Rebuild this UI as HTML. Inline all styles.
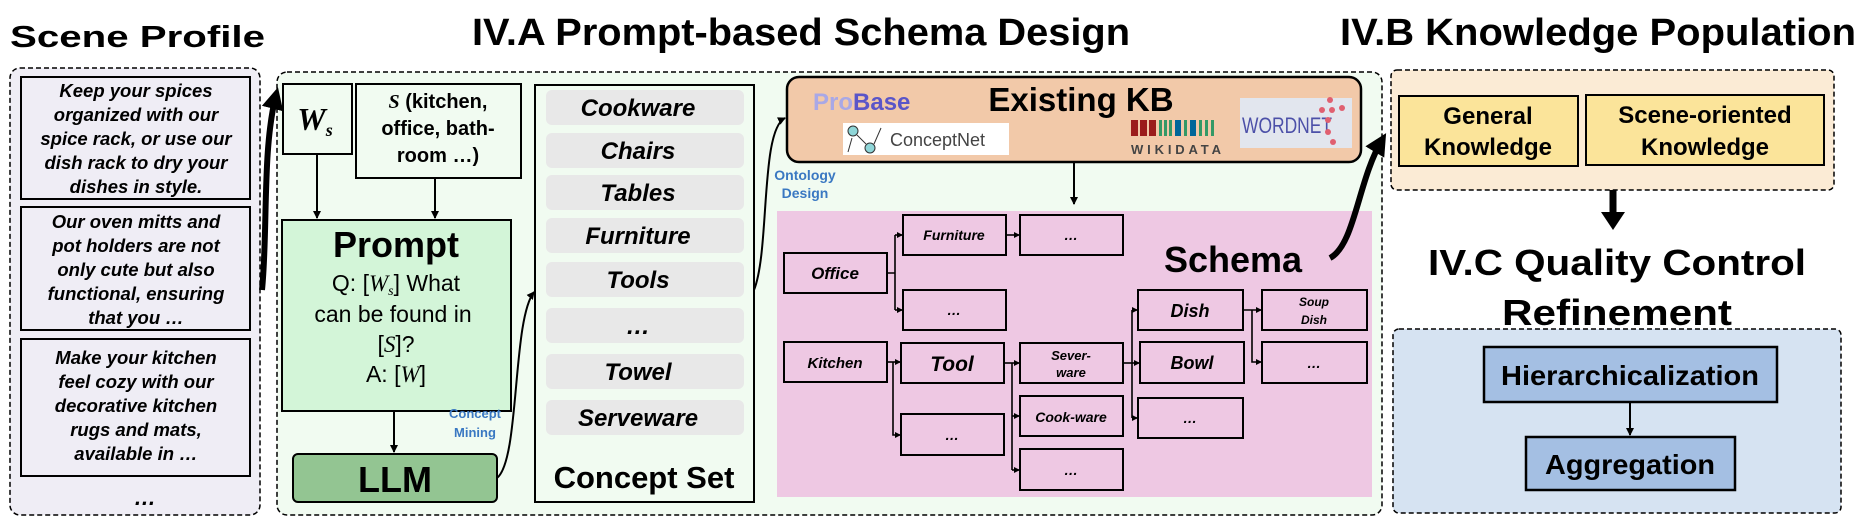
<!DOCTYPE html>
<html><head><meta charset="utf-8"><style>
html,body{margin:0;padding:0;background:#fff;}
svg{display:block;font-family:"Liberation Sans",Arial,sans-serif;}
.b{font-weight:bold}
.bi{font-weight:bold;font-style:italic}
</style></head><body>
<svg width="1858" height="530" viewBox="0 0 1858 530" xmlns="http://www.w3.org/2000/svg">
<defs>
<marker id="a" markerWidth="8" markerHeight="8" refX="7" refY="4" orient="auto" markerUnits="userSpaceOnUse"><path d="M0,0 L8,4 L0,8 z" fill="#000"/></marker>
<marker id="s" markerWidth="6" markerHeight="6" refX="5" refY="3" orient="auto" markerUnits="userSpaceOnUse"><path d="M0,0 L6,3 L0,6 z" fill="#000"/></marker>
<marker id="big" markerWidth="22" markerHeight="22" refX="14" refY="11" orient="auto" markerUnits="userSpaceOnUse"><path d="M0,0 L22,11 L0,22 z" fill="#000"/></marker>
</defs>

<!-- Titles -->
<text x="10" y="47" class="b" font-size="31" textLength="255" lengthAdjust="spacingAndGlyphs">Scene Profile</text>
<text x="472" y="45" class="b" font-size="38" textLength="658" lengthAdjust="spacingAndGlyphs">IV.A Prompt-based Schema Design</text>
<text x="1340" y="45" class="b" font-size="38" textLength="516" lengthAdjust="spacingAndGlyphs">IV.B Knowledge Population</text>
<text x="1617" y="275" class="b" font-size="36" text-anchor="middle" textLength="378" lengthAdjust="spacingAndGlyphs">IV.C Quality Control</text>
<text x="1617" y="325" class="b" font-size="36" text-anchor="middle" textLength="230" lengthAdjust="spacingAndGlyphs">Refinement</text>

<!-- Scene profile -->
<rect x="10" y="68" width="250" height="447" rx="10" fill="#efedf5" stroke="#000" stroke-width="1.5" stroke-dasharray="5,3"/>
<g fill="#efedf5" stroke="#000" stroke-width="2">
<rect x="21" y="77" width="229" height="122"/>
<rect x="21" y="207" width="229" height="123"/>
<rect x="21" y="339" width="229" height="137"/>
</g>
<g class="bi" font-size="18.5" text-anchor="middle">
<text x="136" y="97">Keep your spices</text>
<text x="136" y="121">organized with our</text>
<text x="136" y="145">spice rack, or use our</text>
<text x="136" y="169">dish rack to dry your</text>
<text x="136" y="193">dishes in style.</text>
<text x="136" y="228">Our oven mitts and</text>
<text x="136" y="252">pot holders are not</text>
<text x="136" y="276">only cute but also</text>
<text x="136" y="300">functional, ensuring</text>
<text x="136" y="324">that you …</text>
<text x="136" y="364">Make your kitchen</text>
<text x="136" y="388">feel cozy with our</text>
<text x="136" y="412">decorative kitchen</text>
<text x="136" y="436">rugs and mats,</text>
<text x="136" y="460">available in …</text>
<text x="145" y="505" font-size="22">…</text>
</g>

<!-- Green section -->
<rect x="277" y="72" width="1105" height="443" rx="10" fill="#f1fbf1" stroke="#000" stroke-width="1.5" stroke-dasharray="5,3"/>
<!-- thick arrow scene->ws -->
<path d="M262,290 C268,230 262,150 276,95" fill="none" stroke="#000" stroke-width="6" marker-end="url(#big)"/>

<rect x="283" y="84" width="69" height="70" fill="#f1fbf1" stroke="#000" stroke-width="2"/>
<text x="315" y="130" font-family="Liberation Serif,serif" font-style="italic" font-weight="bold" font-size="32" text-anchor="middle">W<tspan font-size="18" dy="6">s</tspan></text>
<rect x="356" y="84" width="165" height="94" fill="#f1fbf1" stroke="#000" stroke-width="2"/>
<g class="b" font-size="20" text-anchor="middle">
<text x="438" y="108"><tspan font-family="Liberation Serif,serif" font-style="italic">S</tspan> (kitchen,</text>
<text x="438" y="135">office, bath-</text>
<text x="438" y="162">room …)</text>
</g>
<line x1="317" y1="154" x2="317" y2="218" stroke="#000" stroke-width="2" marker-end="url(#a)"/>
<line x1="435" y1="178" x2="435" y2="218" stroke="#000" stroke-width="2" marker-end="url(#a)"/>

<rect x="282" y="220" width="229" height="191" fill="#d3f5d8" stroke="#000" stroke-width="2"/>
<text x="396" y="257" class="b" font-size="36" text-anchor="middle">Prompt</text>
<g font-size="23" text-anchor="middle">
<text x="396" y="291">Q: [<tspan font-family="Liberation Serif,serif" font-style="italic">W<tspan font-size="14" dy="4">s</tspan></tspan><tspan dy="-4">] What</tspan></text>
<text x="393" y="322">can be found  in</text>
<text x="396" y="352">[<tspan font-family="Liberation Serif,serif" font-style="italic">S</tspan>]?</text>
<text x="396" y="382">A: [<tspan font-family="Liberation Serif,serif" font-style="italic">W</tspan>]</text>
</g>
<line x1="394" y1="411" x2="394" y2="452" stroke="#000" stroke-width="2" marker-end="url(#a)"/>
<rect x="293" y="454" width="204" height="48" rx="5" fill="#93c592" stroke="#000" stroke-width="2"/>
<text x="395" y="492" class="b" font-size="36" text-anchor="middle">LLM</text>
<g class="b" font-size="13" fill="#3a78c2" text-anchor="middle">
<text x="475" y="418">Concept</text>
<text x="475" y="437">Mining</text>
</g>
<path d="M497,478 C520,460 512,320 534,292" fill="none" stroke="#000" stroke-width="2" marker-end="url(#a)"/>

<!-- Concept set -->
<rect x="535" y="85" width="219" height="417" fill="#f1fbf1" stroke="#000" stroke-width="2"/>
<g fill="#e8e8e8">
<rect x="546" y="90" width="198" height="35" rx="6"/>
<rect x="546" y="133" width="198" height="35" rx="6"/>
<rect x="546" y="175" width="198" height="35" rx="6"/>
<rect x="546" y="218" width="198" height="35" rx="6"/>
<rect x="546" y="262" width="198" height="35" rx="6"/>
<rect x="546" y="308" width="198" height="35" rx="6"/>
<rect x="546" y="354" width="198" height="35" rx="6"/>
<rect x="546" y="400" width="198" height="35" rx="6"/>
</g>
<g class="bi" font-size="24" text-anchor="middle">
<text x="638" y="116">Cookware</text>
<text x="638" y="159">Chairs</text>
<text x="638" y="201">Tables</text>
<text x="638" y="244">Furniture</text>
<text x="638" y="288">Tools</text>
<text x="638" y="334">…</text>
<text x="638" y="380">Towel</text>
<text x="638" y="426">Serveware</text>
</g>
<text x="644" y="488" class="b" font-size="31" text-anchor="middle">Concept Set</text>
<path d="M754,290 C770,250 760,130 785,118" fill="none" stroke="#000" stroke-width="2" marker-end="url(#a)"/>
<g class="b" font-size="14" fill="#3a78c2" text-anchor="middle">
<text x="805" y="180">Ontology</text>
<text x="805" y="198">Design</text>
</g>

<!-- Existing KB -->
<rect x="787" y="77" width="574" height="85" rx="12" fill="#f2c9a9" stroke="#000" stroke-width="2.5"/>
<text x="1081" y="111" class="b" font-size="33" text-anchor="middle">Existing KB</text>
<text x="813" y="110" class="b" font-size="24"><tspan fill="#a9a8e6">Pro</tspan><tspan fill="#5a55c8">Base</tspan></text>
<rect x="843" y="123" width="166" height="32" fill="#fff"/>
<circle cx="853" cy="131" r="5" fill="#8fd6d8" stroke="#333"/><circle cx="870" cy="148" r="5" fill="#8fd6d8" stroke="#333"/>
<line x1="857" y1="135" x2="866" y2="144" stroke="#333"/><line x1="848" y1="152" x2="852" y2="138" stroke="#333"/><line x1="874" y1="144" x2="881" y2="128" stroke="#333"/>
<text x="890" y="146" font-size="18" fill="#444">ConceptNet</text>
<g>
<rect x="1131" y="120" width="7" height="16" fill="#9b1c1c"/><rect x="1140" y="120" width="7" height="16" fill="#9b1c1c"/><rect x="1149" y="120" width="7" height="16" fill="#9b1c1c"/>
<rect x="1159" y="120" width="3" height="16" fill="#339966"/><rect x="1164" y="120" width="3" height="16" fill="#339966"/><rect x="1169" y="120" width="3" height="16" fill="#339966"/>
<rect x="1175" y="120" width="6" height="16" fill="#006699"/><rect x="1184" y="120" width="3" height="16" fill="#339966"/><rect x="1190" y="120" width="6" height="16" fill="#006699"/><rect x="1199" y="120" width="3" height="16" fill="#339966"/><rect x="1205" y="120" width="3" height="16" fill="#339966"/><rect x="1211" y="120" width="3" height="16" fill="#339966"/>
<text x="1131" y="154" font-size="13" class="b" fill="#444" textLength="90">WIKIDATA</text>
</g>
<rect x="1240" y="98" width="112" height="50" fill="#e2e6ee"/>
<text x="1242" y="133" font-size="22" fill="#4c50a8" textLength="90" lengthAdjust="spacingAndGlyphs">WORDNET</text>
<g fill="#e06070"><circle cx="1330" cy="100" r="3"/><circle cx="1322" cy="110" r="3"/><circle cx="1332" cy="110" r="3"/><circle cx="1342" cy="108" r="3"/><circle cx="1328" cy="120" r="3"/><circle cx="1328" cy="132" r="3"/><circle cx="1333" cy="142" r="3"/></g>
<line x1="1074" y1="162" x2="1074" y2="204" stroke="#000" stroke-width="2" marker-end="url(#a)"/>

<!-- Schema -->
<rect x="777" y="211" width="595" height="286" fill="#eec8e3"/>
<text x="1233" y="272" class="b" font-size="36" text-anchor="middle">Schema</text>
<g fill="#eec8e3" stroke="#000" stroke-width="2">
<rect x="784" y="253" width="103" height="40"/>
<rect x="903" y="215" width="103" height="40"/>
<rect x="1020" y="215" width="103" height="40"/>
<rect x="903" y="290" width="103" height="40"/>
<rect x="784" y="342" width="103" height="40"/>
<rect x="901" y="343" width="103" height="40"/>
<rect x="901" y="414" width="103" height="41"/>
<rect x="1020" y="343" width="103" height="40"/>
<rect x="1020" y="396" width="103" height="40"/>
<rect x="1020" y="449" width="103" height="41"/>
<rect x="1138" y="290" width="105" height="40"/>
<rect x="1140" y="342" width="104" height="41"/>
<rect x="1138" y="398" width="105" height="40"/>
<rect x="1262" y="290" width="105" height="40"/>
<rect x="1262" y="342" width="105" height="41"/>
</g>
<g class="bi" text-anchor="middle">
<text x="835" y="279" font-size="17">Office</text>
<text x="954" y="240" font-size="14">Furniture</text>
<text x="1071" y="240" font-size="14">…</text>
<text x="954" y="315" font-size="14">…</text>
<text x="835" y="368" font-size="15">Kitchen</text>
<text x="952" y="371" font-size="21">Tool</text>
<text x="952" y="440" font-size="14">…</text>
<text x="1071" y="360" font-size="13">Sever-</text>
<text x="1071" y="377" font-size="13">ware</text>
<text x="1071" y="422" font-size="14">Cook-ware</text>
<text x="1071" y="475" font-size="14">…</text>
<text x="1190" y="317" font-size="18">Dish</text>
<text x="1192" y="369" font-size="18">Bowl</text>
<text x="1190" y="423" font-size="14">…</text>
<text x="1314" y="306" font-size="12">Soup</text>
<text x="1314" y="324" font-size="12">Dish</text>
<text x="1314" y="368" font-size="14">…</text>
</g>
<g fill="none" stroke="#000" stroke-width="1.6">
<path d="M887,273 H895 M895,235 V310"/>
<path d="M895,235 H902" marker-end="url(#s)"/><path d="M895,310 H902" marker-end="url(#s)"/>
<path d="M1006,235 H1019" marker-end="url(#s)"/>
<path d="M887,362 H900" marker-end="url(#s)"/>
<path d="M893,362 V435 H900" marker-end="url(#s)"/>
<path d="M1004,363 H1019" marker-end="url(#s)"/>
<path d="M1012,363 V470"/><path d="M1012,416 H1019" marker-end="url(#s)"/><path d="M1012,470 H1019" marker-end="url(#s)"/>
<path d="M1123,363 H1139" marker-end="url(#s)"/>
<path d="M1132,310 V418"/><path d="M1132,310 H1137" marker-end="url(#s)"/><path d="M1132,418 H1137" marker-end="url(#s)"/>
<path d="M1243,310 H1261" marker-end="url(#s)"/>
<path d="M1252,310 V362 H1261" marker-end="url(#s)"/>
</g>
<!-- thick arrow schema -> KP -->
<path d="M1330,258 C1355,245 1358,180 1382,140" fill="none" stroke="#000" stroke-width="6" marker-end="url(#big)"/>

<!-- Knowledge population -->
<rect x="1391" y="70" width="443" height="120" rx="6" fill="#fbebd5" stroke="#000" stroke-width="1.5" stroke-dasharray="5,3"/>
<rect x="1399" y="96" width="179" height="70" fill="#fbe49a" stroke="#000" stroke-width="2"/>
<rect x="1586" y="95" width="238" height="70" fill="#fbe49a" stroke="#000" stroke-width="2"/>
<g class="b" font-size="24" text-anchor="middle">
<text x="1488" y="124">General</text>
<text x="1488" y="155">Knowledge</text>
<text x="1705" y="123">Scene-oriented</text>
<text x="1705" y="155">Knowledge</text>
</g>
<line x1="1613" y1="190" x2="1613" y2="215" stroke="#000" stroke-width="7"/>
<path d="M1601,212 L1625,212 L1613,230 z" fill="#000"/>

<!-- Quality control -->
<rect x="1393" y="329" width="448" height="184" rx="6" fill="#d6e3f2" stroke="#000" stroke-width="1.5" stroke-dasharray="5,3"/>
<rect x="1484" y="347" width="293" height="55" fill="#a4bfe3" stroke="#000" stroke-width="2.5"/>
<rect x="1526" y="437" width="209" height="53" fill="#a4bfe3" stroke="#000" stroke-width="2.5"/>
<text x="1630" y="385" class="b" font-size="28" text-anchor="middle" textLength="258" lengthAdjust="spacingAndGlyphs">Hierarchicalization</text>
<text x="1630" y="474" class="b" font-size="28" text-anchor="middle" textLength="170" lengthAdjust="spacingAndGlyphs">Aggregation</text>
<line x1="1630" y1="402" x2="1630" y2="435" stroke="#000" stroke-width="2" marker-end="url(#a)"/>
</svg>
</body></html>
